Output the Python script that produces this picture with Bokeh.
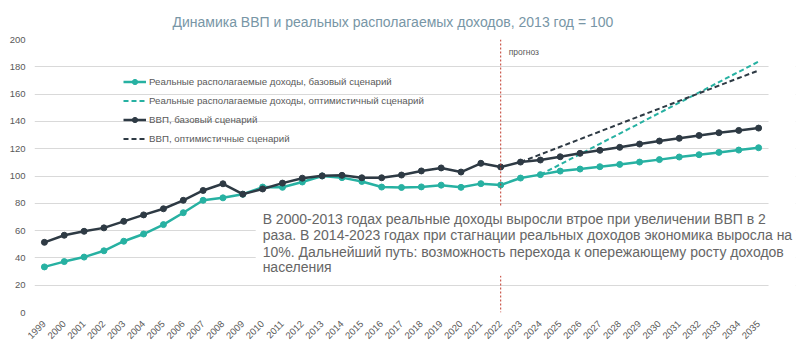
import math
from bokeh.plotting import figure
from bokeh.models import (Range1d, FixedTicker, Span, Label, BoxAnnotation,
                          Legend, LegendItem)
from bokeh.embed import file_html
from bokeh.resources import INLINE

# ---------------- data ----------------
years = list(range(1999, 2036))
income_base = [33.4, 37.3, 40.6, 45.2, 52.2, 57.5, 64.4, 73.1, 82.2, 84.0,
               86.6, 91.9, 91.7, 95.6, 100.0, 98.8, 96.0, 91.9, 91.6, 92.0,
               93.3, 91.7, 94.4, 93.4, 98.5, 101.0, 103.6, 105.1, 106.8, 108.5,
               110.2, 112.0, 113.9, 115.6, 117.3, 119.0, 120.7]
gdp_base = [51.4, 56.6, 59.5, 62.0, 66.8, 71.5, 76.0, 82.2, 89.4, 94.3,
            86.7, 90.5, 94.8, 98.4, 100.1, 100.5, 98.7, 98.7, 100.7, 103.7,
            105.9, 102.9, 109.3, 106.6, 110.2, 111.7, 114.1, 116.6, 118.8, 121.0,
            123.4, 125.6, 127.6, 129.7, 131.7, 133.4, 135.1]
income_opt_years = list(range(2024, 2036))
income_opt = [101.0, 108.5, 116.0, 123.6, 131.1, 138.6, 146.2, 153.7,
              161.2, 168.8, 176.3, 183.8]
gdp_opt_years = list(range(2023, 2036))
gdp_opt = [110.2, 115.8, 121.4, 127.0, 132.6, 138.2, 143.8, 149.4,
           155.0, 160.6, 166.2, 171.8, 177.3]
y_ticks = [0, 20, 40, 60, 80, 100, 120, 140, 160, 180, 200]
forecast_year = 2022

title_text = "Динамика ВВП и реальных располагаемых доходов, 2013 год = 100"
legend_labels = ["Реальные располагаемые доходы, базовый сценарий",
                 "Реальные располагаемые доходы, оптимистичный сценарий",
                 "ВВП, базовый сценарий",
                 "ВВП, оптимистичные сценарий"]
note_lines = ["В 2000-2013 годах реальные доходы выросли втрое при увеличении ВВП в 2",
              "раза. В 2014-2023 годах при стагнации реальных доходов экономика выросла на",
              "10%. Дальнейший путь: возможность перехода к опережающему росту доходов",
              "населения"]
forecast_label = "прогноз"

# ---------------- style ----------------
TEAL = "#27B1A2"
DARK = "#2E3A44"
GRAY = "#595959"
FONT = "Liberation Sans"
X_END_DATA = 2035.5     # last category edge (gridline end)
X_END_VIEW = 2036.86    # extra room so the note can run past the gridlines

p = figure(width=800, height=351, output_backend="svg", toolbar_location=None,
           x_range=Range1d(1998.5, X_END_VIEW), y_range=Range1d(0, 200),
           min_border_left=34, min_border_right=5, min_border_top=39,
           min_border_bottom=39)
p.outline_line_color = None
p.background_fill_color = "white"
p.border_fill_color = "white"

p.title.text = title_text
p.title.align = "left"
p.title.offset = 138
p.title.standoff = 20
p.title.text_font = FONT
p.title.text_font_style = "normal"
p.title.text_font_size = "14px"
p.title.text_color = "#7896A6"

p.xgrid.grid_line_color = None
p.ygrid.grid_line_color = "#D9D9D9"
p.ygrid.grid_line_width = 1

p.yaxis.ticker = FixedTicker(ticks=y_ticks)
p.xaxis.ticker = FixedTicker(ticks=years)
for ax in (p.xaxis, p.yaxis):
    ax.axis_line_color = None
    ax.major_tick_line_color = None
    ax.minor_tick_line_color = None
    ax.major_label_text_font = FONT
    ax.major_label_text_color = GRAY
p.yaxis.major_label_text_font_size = "9.5px"
p.yaxis.major_label_standoff = 3
p.xaxis.major_label_text_font_size = "9.5px"
p.xaxis.major_label_orientation = math.pi / 4
p.xaxis.major_label_standoff = 4

# hide the gridline part beyond the last category
p.add_layout(BoxAnnotation(left=X_END_DATA, right=X_END_VIEW, top=200, bottom=0,
                           fill_color="white", fill_alpha=1.0, line_alpha=0,
                           level="underlay"))

# forecast divider
p.add_layout(Span(location=forecast_year, dimension="height",
                  line_color="#C0392B", line_dash="2 2", line_width=1))
p.add_layout(Label(x=forecast_year + 0.4, y=190.5, text=forecast_label,
                   text_font=FONT, text_font_size="8.5px", text_color=GRAY,
                   text_baseline="middle"))

# series
r_inc_opt = p.line(income_opt_years, income_opt, line_color=TEAL,
                   line_width=2, line_dash="5 3")
r_gdp_opt = p.line(gdp_opt_years, gdp_opt, line_color=DARK,
                   line_width=2, line_dash="5 3")
r_inc_l = p.line(years, income_base, line_color=TEAL, line_width=2.5)
r_inc_m = p.scatter(years, income_base, size=6, color=TEAL)
r_gdp_l = p.line(years, gdp_base, line_color=DARK, line_width=2.5)
r_gdp_m = p.scatter(years, gdp_base, size=6, color=DARK)

legend = Legend(items=[
    LegendItem(label=legend_labels[0], renderers=[r_inc_l, r_inc_m]),
    LegendItem(label=legend_labels[1], renderers=[r_inc_opt]),
    LegendItem(label=legend_labels[2], renderers=[r_gdp_l, r_gdp_m]),
    LegendItem(label=legend_labels[3], renderers=[r_gdp_opt]),
], location=(89, 164))
legend.background_fill_alpha = 0
legend.border_line_alpha = 0
legend.padding = 0
legend.margin = 0
legend.spacing = 0
legend.glyph_width = 23
legend.glyph_height = 13
legend.label_height = 19
legend.label_standoff = 3
legend.label_text_font = FONT
legend.label_text_font_size = "9.7px"
legend.label_text_color = GRAY
p.add_layout(legend, "center")

# text note with white background
p.add_layout(BoxAnnotation(left=2009.65, right=X_END_VIEW, top=77.8, bottom=27.0,
                           fill_color="white", fill_alpha=1.0, line_alpha=0,
                           level="annotation"))
for txt, yv in zip(note_lines, [68.8, 56.6, 44.3, 33.4]):
    p.add_layout(Label(x=2010.0, y=yv, text=txt, text_font=FONT,
                       text_font_size="14px", text_color="#666666",
                       text_baseline="middle"))

open("out.html", "w").write(file_html(p, INLINE))
